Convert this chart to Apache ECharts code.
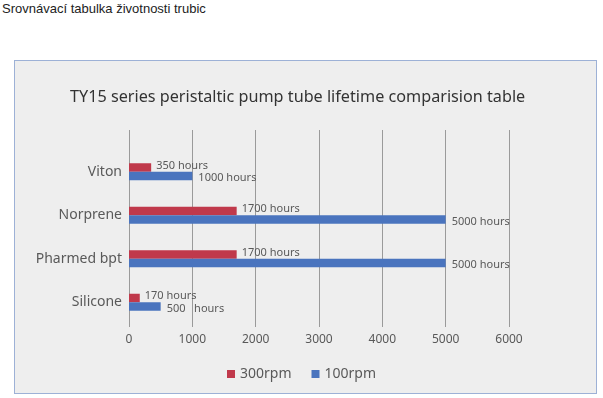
<!DOCTYPE html>
<html>
<head>
<meta charset="utf-8">
<script src="https://cdn.jsdelivr.net/npm/echarts@6/dist/echarts.min.js"></script>
<style>
    html, body { margin: 0; padding: 0; background: #ffffff; }
    .heading {
        position: absolute; left: 2px; top: 1px;
        font-family: 'Liberation Sans', Arial, sans-serif; font-size: 13px; color: #222;
    }
    .box {
        position: absolute; left: 14px; top: 60px; width: 581px; height: 332px;
        border: 1px solid #9db1d6; background: #eeeeee;
    }
    #chart { position: absolute; left: 0; top: 0; width: 603px; height: 398px; }
</style>
</head>
<body>
<div class="heading">Srovnávací tabulka životnosti trubic</div>
<div class="box"></div>
<div id="chart"></div>
<script>
// bottom to top, as the category axis runs
const tubes = ['Silicone', 'Pharmed bpt', 'Norprene', 'Viton'];
const rpm300 = [170, 1700, 1700, 350];
const rpm100 = [500, 5000, 5000, 1000];
const labels300 = ['170 hours', '1700 hours', '1700 hours', '350 hours'];
const labels100 = ['500   hours', '5000 hours', '5000 hours', '1000 hours'];
const xTicks = [0, 6000, 1000]; // min, max, interval

const font = "'Noto Sans', 'Noto Sans CJK SC', sans-serif";
const textGray = '#595959';

const chart = echarts.init(document.getElementById('chart'));

let options = {
    animation: false,
    title: {
        text: 'TY15 series peristaltic pump tube lifetime comparision table',
        left: 65,
        top: 84,
        textStyle: {
            fontSize: 16.2,
            fontFamily: font,
            fontWeight: 'normal',
            color: '#333333'
        }
    },
    legend: {
        data: ['300rpm', '100rpm'],
        left: 222,
        top: 362,
        icon: 'rect',
        itemWidth: 8,
        itemHeight: 8,
        itemGap: 20,
        textStyle: { fontSize: 14, fontFamily: font, color: textGray }
    },
    grid: [
        // grid lines + x labels
        { left: 129, right: 94, top: 130, bottom: 76 },
        // bars
        { left: 129, right: 94, top: 150, bottom: 74 }
    ],
    xAxis: [{
        gridIndex: 0,
        type: 'value',
        min: xTicks[0],
        max: xTicks[1],
        interval: xTicks[2],
        axisLine: { show: false },
        axisTick: { show: true, length: 5, lineStyle: { color: '#9a9a9a' } },
        axisLabel: {
            margin: 12, fontSize: 12, fontFamily: font, color: textGray,
            formatter: (v) => String(v)
        },
        splitLine: { show: true, lineStyle: { color: '#9a9a9a', width: 1 } }
    }, {
        gridIndex: 1,
        type: 'value',
        min: xTicks[0],
        max: xTicks[1],
        show: false
    }],
    yAxis: [{
        gridIndex: 0,
        type: 'value',
        show: false
    }, {
        gridIndex: 1,
        type: 'category',
        data: tubes,
        axisLine: { show: false },
        axisTick: { show: false },
        axisLabel: { margin: 7, fontSize: 14, fontFamily: font, color: textGray },
        splitLine: { show: false }
    }],
    series: [{
        name: '300rpm',
        type: 'bar',
        xAxisIndex: 1,
        yAxisIndex: 1,
        data: rpm300,
        barWidth: 8.5,
        barGap: '0%',
        itemStyle: { color: '#c0394b' },
        label: {
            show: true,
            position: 'right',
            distance: 5,
            offset: [0, -2],
            formatter: (p) => labels300[p.dataIndex],
            fontSize: 11,
            fontFamily: font,
            color: textGray
        }
    }, {
        name: '100rpm',
        type: 'bar',
        xAxisIndex: 1,
        yAxisIndex: 1,
        data: rpm100,
        barWidth: 8.5,
        barGap: '0%',
        itemStyle: { color: '#4a74be' },
        label: {
            show: true,
            position: 'right',
            distance: 6,
            offset: [0, 2],
            formatter: (p) => labels100[p.dataIndex],
            fontSize: 11,
            fontFamily: font,
            color: textGray
        }
    }]
};
chart.setOption(options, { notMerge: true });
</script>
</body>
</html>
